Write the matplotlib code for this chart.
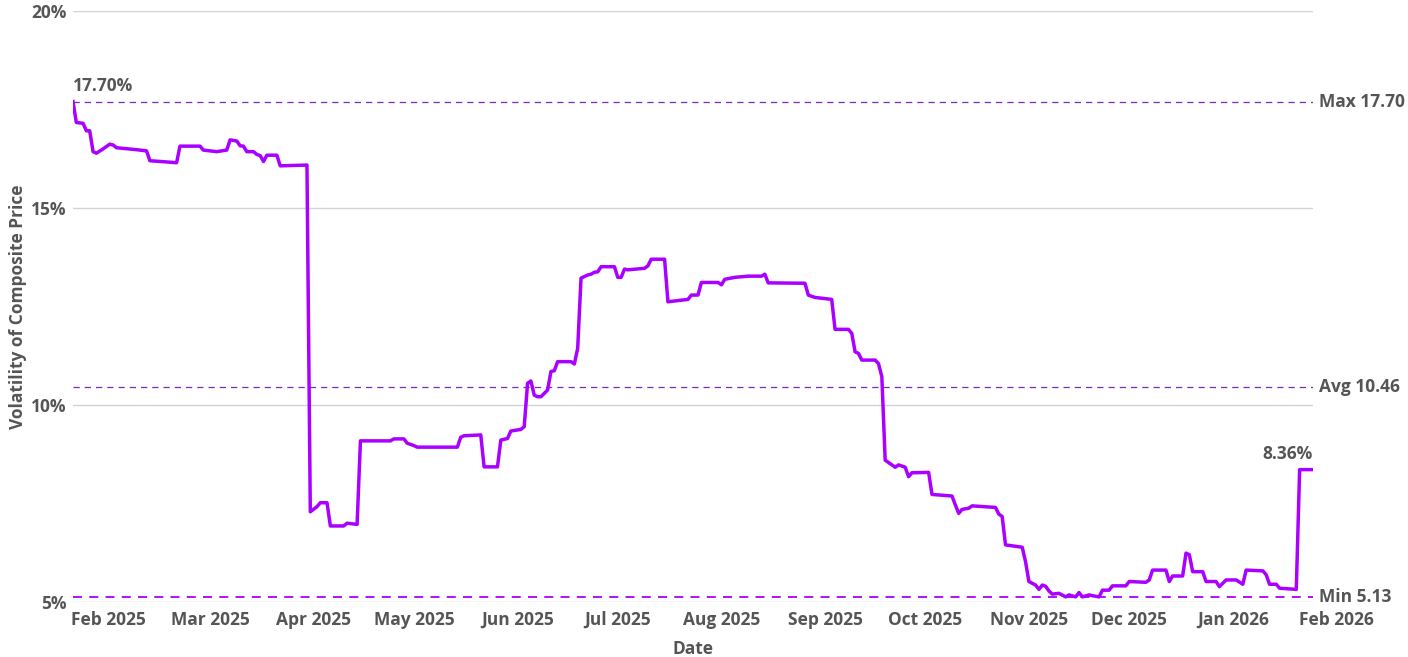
import matplotlib
matplotlib.use("Agg")
import matplotlib.pyplot as plt
import matplotlib.dates as mdates
from matplotlib.transforms import ScaledTranslation, blended_transform_factory
import pandas as pd
import numpy as np

plt.rcParams['font.family'] = ['Open Sans', 'DejaVu Sans']

dates = [
    "2025-01-19", "2025-01-20", "2025-01-22", "2025-01-23", "2025-01-24", "2025-01-25", "2025-01-26",
    "2025-01-28", "2025-01-30", "2025-01-31", "2025-02-01", "2025-02-07", "2025-02-10", "2025-02-11",
    "2025-02-19", "2025-02-20", "2025-02-26", "2025-02-27", "2025-03-03", "2025-03-06", "2025-03-07",
    "2025-03-09", "2025-03-10", "2025-03-11", "2025-03-12", "2025-03-14", "2025-03-15", "2025-03-16",
    "2025-03-17", "2025-03-18", "2025-03-21", "2025-03-22", "2025-03-30", "2025-03-31",
    "2025-04-02", "2025-04-03", "2025-04-05", "2025-04-06", "2025-04-10", "2025-04-11", "2025-04-14",
    "2025-04-15", "2025-04-24", "2025-04-25", "2025-04-28", "2025-04-29", "2025-05-01", "2025-05-02",
    "2025-05-12", "2025-05-14", "2025-05-15", "2025-05-16", "2025-05-21", "2025-05-22", "2025-05-26",
    "2025-05-27", "2025-05-29", "2025-05-30", "2025-06-02", "2025-06-03", "2025-06-04", "2025-06-05",
    "2025-06-06", "2025-06-07", "2025-06-08", "2025-06-10", "2025-06-11", "2025-06-12", "2025-06-13",
    "2025-06-17", "2025-06-18", "2025-06-19", "2025-06-20", "2025-06-22", "2025-06-23", "2025-06-24",
    "2025-06-25", "2025-06-26", "2025-06-30", "2025-07-01", "2025-07-02", "2025-07-03", "2025-07-04",
    "2025-07-09", "2025-07-10", "2025-07-11", "2025-07-15", "2025-07-16", "2025-07-22", "2025-07-23",
    "2025-07-25", "2025-07-26", "2025-07-31", "2025-08-01", "2025-08-02", "2025-08-05", "2025-08-09",
    "2025-08-13", "2025-08-14", "2025-08-15", "2025-08-26", "2025-08-27", "2025-08-29", "2025-09-03",
    "2025-09-04", "2025-09-08", "2025-09-09", "2025-09-10", "2025-09-11", "2025-09-12", "2025-09-16",
    "2025-09-17", "2025-09-18", "2025-09-19", "2025-09-20", "2025-09-22", "2025-09-23", "2025-09-25",
    "2025-09-26", "2025-09-27", "2025-10-02", "2025-10-03", "2025-10-09", "2025-10-10", "2025-10-11",
    "2025-10-12", "2025-10-14", "2025-10-15", "2025-10-22", "2025-10-23", "2025-10-24", "2025-10-25",
    "2025-10-30", "2025-10-31", "2025-11-01", "2025-11-03", "2025-11-04", "2025-11-05", "2025-11-06",
    "2025-11-07", "2025-11-08", "2025-11-10", "2025-11-12", "2025-11-13", "2025-11-15", "2025-11-16",
    "2025-11-17", "2025-11-19", "2025-11-20", "2025-11-22", "2025-11-23", "2025-11-25", "2025-11-26",
    "2025-11-30", "2025-12-01", "2025-12-06", "2025-12-07", "2025-12-08", "2025-12-12", "2025-12-13",
    "2025-12-14", "2025-12-17", "2025-12-18", "2025-12-19", "2025-12-20", "2025-12-23", "2025-12-24",
    "2025-12-27", "2025-12-28", "2025-12-30", "2026-01-02", "2026-01-04", "2026-01-05", "2026-01-10",
    "2026-01-11", "2026-01-12", "2026-01-14", "2026-01-15", "2026-01-20", "2026-01-21", "2026-01-25",
]
volatility = [
    17.70, 17.17, 17.15, 16.96, 16.96, 16.43, 16.39,
    16.50, 16.62, 16.60, 16.53, 16.48, 16.45, 16.20,
    16.15, 16.57, 16.57, 16.47, 16.43, 16.47, 16.73,
    16.70, 16.58, 16.57, 16.43, 16.43, 16.36, 16.33,
    16.18, 16.34, 16.34, 16.07, 16.09, 7.29,
    7.42, 7.52, 7.52, 6.93, 6.93, 7.00, 6.97,
    9.09, 9.09, 9.14, 9.14, 9.03, 8.97, 8.93,
    8.93, 8.93, 9.18, 9.22, 9.24, 8.43, 8.43,
    9.11, 9.15, 9.34, 9.38, 9.45, 10.55, 10.61,
    10.25, 10.21, 10.21, 10.38, 10.85, 10.87, 11.10,
    11.10, 11.04, 11.44, 13.22, 13.30, 13.32, 13.37,
    13.38, 13.51, 13.51, 13.24, 13.24, 13.45, 13.43,
    13.47, 13.53, 13.70, 13.70, 12.62, 12.68, 12.79,
    12.79, 13.11, 13.11, 13.05, 13.19, 13.24, 13.27,
    13.27, 13.32, 13.10, 13.09, 12.79, 12.73, 12.68,
    11.92, 11.92, 11.82, 11.35, 11.31, 11.14, 11.14,
    11.05, 10.72, 8.60, 8.54, 8.42, 8.48, 8.42,
    8.18, 8.28, 8.29, 7.73, 7.69, 7.46, 7.25,
    7.35, 7.38, 7.44, 7.40, 7.23, 7.17, 6.45,
    6.39, 6.02, 5.52, 5.43, 5.32, 5.43, 5.40,
    5.28, 5.20, 5.22, 5.13, 5.18, 5.13, 5.24,
    5.13, 5.18, 5.16, 5.13, 5.30, 5.30, 5.41,
    5.41, 5.52, 5.50, 5.56, 5.81, 5.81, 5.52,
    5.66, 5.66, 6.24, 6.20, 5.77, 5.77, 5.52,
    5.52, 5.39, 5.56, 5.56, 5.45, 5.81, 5.79,
    5.69, 5.45, 5.45, 5.35, 5.32, 8.36, 8.36,
]
avg_value = 10.46
month_ticks = pd.date_range("2025-02-01", "2026-02-01", freq="MS")

x = pd.to_datetime(dates)
y = np.array(volatility)
max_v = y.max()
min_v = y.min()

TEXT = "#555555"
LINE = "#aa00ff"
REF = "#7a2ab8"
FS = 12.5

fig = plt.figure(figsize=(14.08, 6.57), dpi=100)
ax = fig.add_axes([73/1408, 1-602/657, (1313-73)/1408, (602-11)/657])

for v in [5, 10, 15, 20]:
    ax.axhline(v, color="#d3d3d3", lw=1.0, zorder=1)

ax.axhline(max_v, color=REF, lw=0.9, ls=(0, (5, 4)), zorder=2)
ax.axhline(avg_value, color=REF, lw=0.9, ls=(0, (5, 4)), zorder=2)
ax.axhline(min_v, color=LINE, lw=1.3, ls=(0, (5, 4)), zorder=2)

ax.plot(x, y, color=LINE, lw=2.5, zorder=3, solid_joinstyle="round")

ax.set_xlim(x[0], x[-1])
ax.set_ylim(5, 20)
for s in ax.spines.values():
    s.set_visible(False)

ax.set_yticks([5, 10, 15, 20])
ax.set_yticklabels(["5%", "10%", "15%", "20%"])
ticks_in = [t for t in month_ticks if x[0] <= t <= x[-1]]
ax.set_xticks(ticks_in)
ax.set_xticklabels([t.strftime("%b %Y") for t in ticks_in])
ax.tick_params(axis="both", length=0, labelsize=FS, labelcolor=TEXT)
ax.tick_params(axis="x", pad=6.5)
ax.tick_params(axis="y", pad=4.5)
for lab in ax.get_xticklabels() + ax.get_yticklabels():
    lab.set_fontweight("bold")
# first label nudged left as in reference
fl = ax.get_xticklabels()[0]
fl.set_transform(fl.get_transform() + ScaledTranslation(-8/100, 0, fig.dpi_scale_trans))

# extra tick label beyond the data range
trans_x = blended_transform_factory(ax.transData, ax.transAxes)
for t in month_ticks:
    if t > x[-1]:
        ax.annotate(t.strftime("%b %Y"), xy=(mdates.date2num(t), 0), xycoords=trans_x,
                    xytext=(0, -6.5), textcoords="offset points", ha="center", va="top",
                    fontsize=FS, fontweight="bold", color=TEXT, annotation_clip=False)

ax.set_xlabel("Date", fontsize=FS, fontweight="bold", color=TEXT, labelpad=8)
ax.set_ylabel("Volatility of Composite Price", fontsize=FS, fontweight="bold", color=TEXT, labelpad=3)

trans_r = blended_transform_factory(ax.transAxes, ax.transData)
ax.text(1.005, max_v, f"Max {max_v:.2f}", transform=trans_r, ha="left", va="center",
        fontsize=FS, fontweight="bold", color=TEXT)
ax.text(1.005, avg_value, f"Avg {avg_value:.2f}", transform=trans_r, ha="left", va="center",
        fontsize=FS, fontweight="bold", color=TEXT)
ax.text(1.005, min_v, f"Min {min_v:.2f}", transform=trans_r, ha="left", va="center",
        fontsize=FS, fontweight="bold", color=TEXT)

ax.annotate(f"{y[0]:.2f}%", xy=(x[0], y[0]), xytext=(0, 5), textcoords="offset points",
            ha="left", va="bottom", fontsize=FS, fontweight="bold", color=TEXT, annotation_clip=False)
ax.annotate(f"{y[-1]:.2f}%", xy=(x[-1], y[-1]), xytext=(0, 5), textcoords="offset points",
            ha="right", va="bottom", fontsize=FS, fontweight="bold", color=TEXT, annotation_clip=False)

fig.savefig("out.png", dpi=100)
